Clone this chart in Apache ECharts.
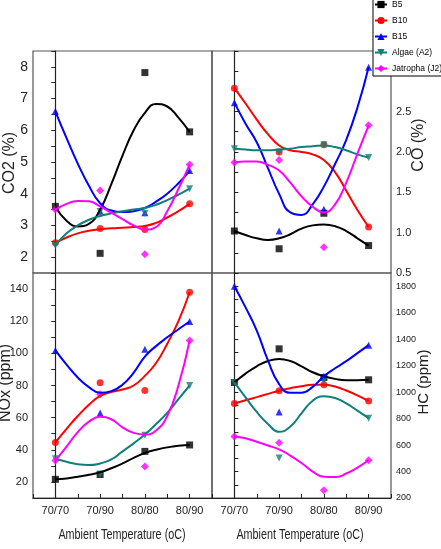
<!DOCTYPE html>
<html>
<head>
<meta charset="utf-8">
<script src="https://cdn.jsdelivr.net/npm/echarts@6/dist/echarts.min.js"></script>
<style>
html, body { margin: 0; padding: 0; background: #fff; }
#chart { width: 441px; height: 549px; }
</style>
</head>
<body>
<div id="chart"></div>
<script>
var categories = ['70/70', '70/90', '80/80', '80/90'];
var fuels = ['B5', 'B10', 'B15', 'Algae (A2)', 'Jatropha (J2)'];
var curveX = [0, 0.25, 0.5, 0.75, 1, 1.25, 1.5, 1.75, 2, 2.25, 2.5, 2.75, 3];

// CO2 (%) - measured points, one row per fuel
var co2Points = [
    [3.6, 2.12, 7.82, 5.95],
    [2.45, 2.9, 2.87, 3.68],
    [6.6, 3.45, 3.4, 4.73],
    [2.37, 3.44, 3.38, 4.16],
    [3.5, 4.1, 2.09, 4.92]
];
var co2Curves = [
    [3.6, 3.15, 2.97, 3.05, 3.5, 4.3, 5.2, 6.0, 6.55, 6.83, 6.75, 6.4, 5.95],
    [2.45, 2.62, 2.75, 2.83, 2.88, 2.91, 2.93, 2.95, 2.98, 3.08, 3.25, 3.45, 3.68],
    [6.6, 5.75, 4.95, 4.25, 3.7, 3.47, 3.42, 3.45, 3.55, 3.75, 4.0, 4.33, 4.72],
    [2.37, 2.75, 3.0, 3.18, 3.3, 3.38, 3.45, 3.5, 3.55, 3.65, 3.8, 3.97, 4.16],
    [3.5, 3.68, 3.77, 3.76, 3.6, 3.4, 3.2, 3.0, 2.87, 2.95, 3.45, 4.15, 4.92]
];

// CO (%)
var coPoints = [
    [1.02, 0.80, 1.24, 0.84],
    [2.79, 2.0, 2.09, 1.07],
    [2.61, 1.02, 1.29, 3.05],
    [2.04, 2.0, 2.09, 1.93],
    [1.87, 1.9, 0.82, 2.33]
];
var coCurves = [
    [1.02, 0.97, 0.93, 0.91, 0.93, 0.98, 1.05, 1.09, 1.1, 1.08, 1.02, 0.93, 0.84],
    [2.79, 2.6, 2.4, 2.22, 2.08, 2.02, 2.0, 1.97, 1.9, 1.75, 1.52, 1.28, 1.07],
    [2.61, 2.35, 2.12, 1.8, 1.48, 1.25, 1.22, 1.35, 1.57, 1.85, 2.15, 2.55, 3.05],
    [2.04, 2.03, 2.02, 2.02, 2.03, 2.04, 2.06, 2.07, 2.08, 2.06, 2.02, 1.97, 1.93],
    [1.87, 1.88, 1.88, 1.84, 1.77, 1.62, 1.45, 1.32, 1.25, 1.35, 1.62, 1.98, 2.33]
];

// NOx (ppm)
var noxPoints = [
    [21.6, 24.6, 39, 43],
    [44.6, 81.7, 76.9, 138],
    [101.8, 62.9, 102.5, 119.8],
    [34.4, 25, 49, 80],
    [33.3, 74.6, 29.6, 108]
];
var noxCurves = [
    [21.6, 22.2, 23.2, 24.5, 26, 28.5, 31.5, 35, 38, 40, 41.5, 42.5, 43],
    [44.6, 53, 61, 68, 73.5, 76, 77.5, 80, 86, 94, 106, 120, 138],
    [101.8, 93, 85, 79, 75.5, 76.5, 80.5, 88, 98, 104.5, 110, 115, 119.8],
    [34.4, 32.5, 31, 30.5, 31.5, 34, 39, 44, 49.5, 56, 63, 71.5, 80],
    [33.3, 42, 51, 57.5, 60.5, 59, 54, 50.5, 49.5, 52, 61, 80, 108]
];

// HC (ppm)
var hcPoints = [
    [1073, 1327, 1110, 1093],
    [914, 1011, 1055, 932],
    [1800, 849, 1119, 1355],
    [1073, 503, 1086, 803],
    [665, 618, 259, 485]
];
var hcCurves = [
    [1073, 1140, 1195, 1235, 1250, 1235, 1195, 1150, 1120, 1100, 1090, 1090, 1093],
    [914, 938, 962, 987, 1011, 1030, 1045, 1055, 1055, 1042, 1012, 975, 932],
    [1800, 1640, 1465, 1240, 1060, 995, 995, 1040, 1120, 1180, 1234, 1295, 1355],
    [1073, 960, 850, 760, 700, 740, 840, 935, 968, 955, 915, 860, 803],
    [665, 652, 625, 597, 567, 520, 464, 400, 360, 358, 385, 430, 485]
];

var colors = ['#000000', '#ff0000', '#0000ff', '#0f7f7b', '#ff00ff'];
var symbols = ['rect', 'circle', 'triangle', 'triangle', 'diamond'];
var rotations = [0, 0, 0, 180, 0];
var font = "'Liberation Sans', Arial, sans-serif";

var panels = [
    { left: 33, top: 51, pos: 'left', min: 1.5, max: 8.5, interval: 0.5, step: 1, dec: 0, fs: 14, xLabels: false, points: co2Points, curves: co2Curves },
    { left: 212, top: 51, pos: 'right', min: 0.5, max: 3.25, interval: 0.25, step: 0.5, dec: 1, fs: 11, xLabels: false, points: coPoints, curves: coCurves },
    { left: 33, top: 273, pos: 'left', min: 10, max: 150, interval: 10, step: 20, dec: 0, fs: 11, xLabels: true, points: noxPoints, curves: noxCurves },
    { left: 212, top: 273, pos: 'right', min: 200, max: 1900, interval: 100, step: 200, dec: 0, fs: 9, xLabels: true, points: hcPoints, curves: hcCurves }
];

function stepLabel(step, dec) {
    return function (v) {
        var r = v / step;
        if (Math.abs(r - Math.round(r)) > 1e-6) return '';
        return dec ? v.toFixed(dec) : String(v);
    };
}

var grids = [], xAxes = [], yAxes = [], series = [];
panels.forEach(function (p, k) {
    grids.push({
        left: p.left, top: p.top, width: 179, height: k < 2 ? 222 : 225,
        show: true, borderColor: '#555', borderWidth: 1.2
    });
    xAxes.push({
        type: 'value', gridIndex: k, min: -0.5, max: 3.5, interval: 0.5,
        splitLine: { show: false },
        axisLine: { show: p.xLabels, onZero: false, lineStyle: { color: '#222', width: 1.2 } },
        axisTick: { show: p.xLabels, inside: true, length: 4, lineStyle: { color: '#222' } },
        axisLabel: {
            show: p.xLabels, margin: 7, color: '#222', fontFamily: font, fontSize: 11,
            formatter: function (v) {
                return (v >= 0 && v <= 3 && v === Math.round(v)) ? categories[v] : '';
            }
        }
    });
    yAxes.push({
        type: 'value', gridIndex: k, position: p.pos,
        min: p.min, max: p.max, interval: p.interval,
        splitLine: { show: false },
        axisLine: { show: true, lineStyle: { color: '#222', width: 1.2 } },
        axisTick: { show: true, length: 4, lineStyle: { color: '#222' } },
        axisLabel: { margin: 5, color: '#222', fontFamily: font, fontSize: p.fs, formatter: stepLabel(p.step, p.dec) }
    });
    fuels.forEach(function (name, f) {
        series.push({
            name: name, type: 'line', xAxisIndex: k, yAxisIndex: k,
            smooth: true, showSymbol: false, symbol: symbols[f], symbolRotate: rotations[f], symbolSize: 8,
            color: colors[f], lineStyle: { width: 2, color: colors[f] },
            data: curveX.map(function (x, i) { return [x, p.curves[f][i]]; })
        });
    });
    fuels.forEach(function (name, f) {
        series.push({
            name: name, type: 'scatter', xAxisIndex: k, yAxisIndex: k,
            symbol: symbols[f], symbolRotate: rotations[f], symbolSize: f === 4 ? 8 : 7,
            itemStyle: { color: colors[f] },
            data: p.points[f].map(function (v, i) { return [i, v]; })
        });
    });
});

// axis titles; the x titles are squeezed like the condensed face in the original
function title(text, x, y, rotate, size, squeeze) {
    return {
        type: 'text', x: x, y: y, rotation: rotate ? Math.PI / 2 : 0,
        scaleX: squeeze || 1,
        style: { text: text, fill: '#222', font: size + 'px ' + font, textAlign: 'center', textVerticalAlign: 'middle' }
    };
}

var chart = echarts.init(document.getElementById('chart'));
chart.setOption({
    backgroundColor: '#fff',
    animation: false,
    grid: grids,
    xAxis: xAxes,
    yAxis: yAxes,
    legend: {
        data: fuels, orient: 'vertical', left: 373, top: -3,
        itemWidth: 12, itemHeight: 9, itemGap: 7,
        padding: [3, 20, 3, 1],
        backgroundColor: '#fff', borderColor: '#000', borderWidth: 1,
        textStyle: { fontFamily: font, fontSize: 8.5, color: '#000' },
        z: 20
    },
    graphic: [
        title('CO2 (%)', 10, 163, true, 16),
        title('NOx (ppm)', 6, 383, true, 16),
        title('CO (%)', 419, 145, true, 16),
        title('HC (ppm)', 424, 382, true, 15),
        title('Ambient Temperature (oC)', 122, 535, false, 15, 0.72),
        title('Ambient Temperature (oC)', 300, 535, false, 15, 0.72)
    ],
    series: series
});
</script>
</body>
</html>
